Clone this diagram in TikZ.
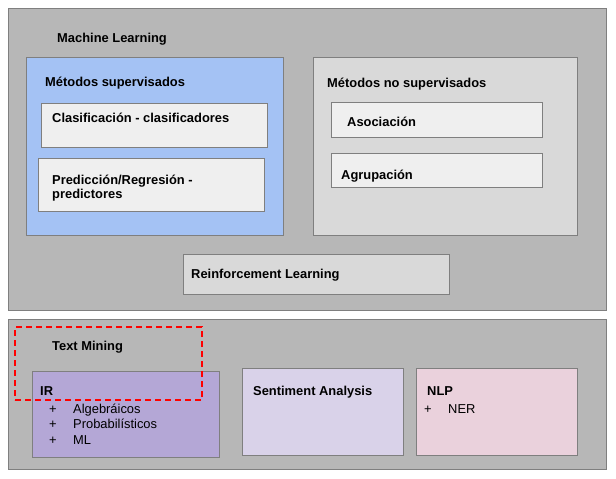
\documentclass[tikz,border=0pt]{standalone}
\usepackage{fontspec}
\setmainfont{Liberation Sans}
\usetikzlibrary{fit}
\definecolor{outergray}{HTML}{B7B7B7}
\definecolor{bluebox}{HTML}{A4C2F4}
\definecolor{lightgray}{HTML}{D9D9D9}
\definecolor{innergray}{HTML}{EFEFEF}
\definecolor{edgegray}{HTML}{7F7F7F}
\definecolor{irpurple}{HTML}{B4A7D6}
\definecolor{sapurple}{HTML}{D9D2E9}
\definecolor{nlppink}{HTML}{EAD1DC}
\begin{document}
\begin{tikzpicture}[x=1pt,y=-1pt,
  box/.style={draw=edgegray, line width=0.8pt, inner sep=0pt},
  lbl/.style={anchor=west, inner sep=0pt, text height=9.5pt, text depth=0pt, font=\fontsize{12.9}{15}\selectfont\bfseries},
  item/.style={anchor=west, inner sep=0pt, text height=9.5pt, text depth=0pt, font=\fontsize{12.9}{15}\selectfont}]
\useasboundingbox (0,0) rectangle (616,479);
\fill[white] (0,0) rectangle (616,479);
% top group
\node[box, fill=outergray, fit={(8,8)(606,310)}] (ml) {};
\node[lbl] (mltxt) at (57,38) {Machine Learning};
\node[box, fill=bluebox, fit={(26,57)(283,235)}] (sup) {};
\node[lbl] (suptxt) at (45,82) {Métodos supervisados};
\node[box, fill=innergray, fit={(41,103)(267,147)}] (clas) {};
\node[lbl] (clastxt) at (52,118) {Clasificación - clasificadores};
\node[box, fill=innergray, fit={(38,158)(264,211)}] (pred) {};
\node[lbl] (predtxt1) at (52,180) {Predicción/Regresión -};
\node[lbl] (predtxt2) at (52,194) {predictores};
\node[box, fill=lightgray, fit={(313,57)(577,235)}] (nosup) {};
\node[lbl] (nosuptxt) at (327,83) {Métodos no supervisados};
\node[box, fill=innergray, fit={(331,102)(542,137)}] (asoc) {};
\node[lbl] (asoctxt) at (347,122) {Asociación};
\node[box, fill=innergray, fit={(331,153)(542,187)}] (agru) {};
\node[lbl] (agrutxt) at (341,175) {Agrupación};
\node[box, fill=lightgray, fit={(183,254)(449,294)}] (rl) {};
\node[lbl] (rltxt) at (191,274) {Reinforcement Learning};
% bottom group
\node[box, fill=outergray, fit={(8,319)(606,469)}] (tm) {};
\node[lbl] (tmtxt) at (52,346) {Text Mining};
\node[box, fill=irpurple, fit={(32,371)(219,457)}] (ir) {};
\node[lbl] (irtxt) at (40,391) {IR};
\node[item] (p1) at (49,409) {+};
\node[item] (i1) at (73,409) {Algebráicos};
\node[item] (p2) at (49,424) {+};
\node[item] (i2) at (73,424) {Probabilísticos};
\node[item] (p3) at (49,440) {+};
\node[item] (i3) at (73,440) {ML};
\node[box, fill=sapurple, fit={(242,368)(403,455)}] (sa) {};
\node[lbl] (satxt) at (253,391) {Sentiment Analysis};
\node[box, fill=nlppink, fit={(416,368)(577,455)}] (nlp) {};
\node[lbl] (nlptxt) at (427,391) {NLP};
\node[item] (p4) at (424,409) {+};
\node[item] (i4) at (448,409) {NER};
\node[draw=red, line width=1.3pt, dash pattern=on 6pt off 4pt, inner sep=0pt, fit={(15,327)(202,400)}] (hl) {};
\end{tikzpicture}
\end{document}
